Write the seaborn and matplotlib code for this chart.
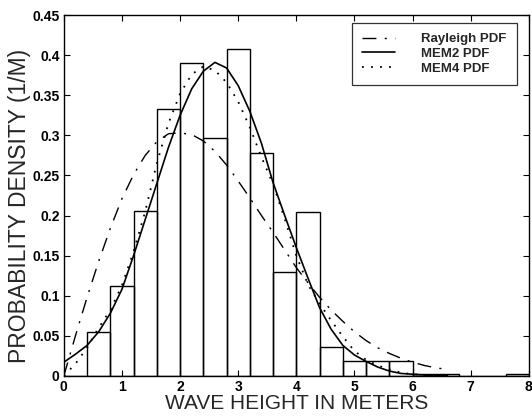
import matplotlib
matplotlib.use("Agg")
import matplotlib.pyplot as plt
import seaborn as sns
import numpy as np

# ---- data ----
bin_edges = [0.0, 0.4, 0.8, 1.2, 1.6, 2.0, 2.4, 2.8, 3.2, 3.6, 4.0, 4.4, 4.8,
             5.2, 5.6, 6.0, 6.4, 6.8, 7.2, 7.6, 8.0]
bin_density = [0.0, 0.055, 0.112, 0.205, 0.333, 0.390, 0.297, 0.408, 0.278,
               0.129, 0.204, 0.036, 0.018, 0.018, 0.018, 0.002, 0.002, 0.0,
               0.0, 0.002]

h_grid = [0.0, 0.2, 0.4, 0.6, 0.8, 1.0, 1.2, 1.4, 1.6, 1.8, 2.0, 2.2, 2.4,
          2.6, 2.8, 3.0, 3.2, 3.4, 3.6, 3.8, 4.0, 4.2, 4.4, 4.6, 4.8, 5.0,
          5.2, 5.4, 5.6, 5.8, 6.0, 6.2, 6.4, 6.6]
rayleigh_pdf = [0.0, 0.050, 0.098, 0.143, 0.184, 0.221, 0.251, 0.275, 0.292,
                0.302, 0.303, 0.301, 0.293, 0.280, 0.263, 0.243, 0.222, 0.200,
                0.179, 0.157, 0.135, 0.116, 0.098, 0.082, 0.068, 0.055, 0.044,
                0.035, 0.028, 0.022, 0.017, 0.013, 0.010, 0.008]
mem2_pdf = [0.017, 0.027, 0.038, 0.055, 0.078, 0.108, 0.150, 0.195, 0.240,
            0.285, 0.325, 0.358, 0.380, 0.391, 0.384, 0.362, 0.330, 0.290,
            0.241, 0.200, 0.160, 0.122, 0.085, 0.058, 0.038, 0.026, 0.018,
            0.011, 0.006, 0.003, 0.002, 0.001, 0.0005, 0.0003]
mem4_pdf = [0.0, 0.015, 0.035, 0.060, 0.082, 0.113, 0.155, 0.205, 0.265,
            0.315, 0.352, 0.376, 0.386, 0.381, 0.366, 0.342, 0.310, 0.273,
            0.239, 0.196, 0.150, 0.114, 0.090, 0.069, 0.049, 0.031, 0.020,
            0.013, 0.008, 0.004, 0.002, 0.001, 0.0005, 0.0003]

x_ticks = [0, 1, 2, 3, 4, 5, 6, 7, 8]
x_tick_labels = ["0", "1", "2", "3", "4", "5", "6", "7", "8"]
y_ticks = [0, 0.05, 0.1, 0.15, 0.2, 0.25, 0.3, 0.35, 0.4, 0.45]
y_tick_labels = ["0", "0.05", "0.1", "0.15", "0.2", "0.25", "0.3", "0.35",
                 "0.4", "0.45"]

# ---- figure ----
sns.set_style("ticks")
plt.rcParams["font.family"] = ["Liberation Sans", "DejaVu Sans"]

fig = plt.figure(figsize=(5.32, 4.19), dpi=100)
ax = fig.add_axes([0.120, 0.103, 0.874, 0.861])

bin_centers = [(a + b) / 2 for a, b in zip(bin_edges[:-1], bin_edges[1:])]
sns.histplot(x=bin_centers, weights=bin_density, bins=bin_edges, fill=False,
             color="black", linewidth=1.0, element="bars", stat="count",
             ax=ax, legend=False)

sns.lineplot(x=h_grid, y=rayleigh_pdf, ax=ax, color="black", linewidth=1.0,
             dashes=False, label="Rayleigh PDF", linestyle=(0, (10, 6, 1.5, 6)))
sns.lineplot(x=h_grid, y=mem2_pdf, ax=ax, color="black", linewidth=1.2,
             label="MEM2 PDF", linestyle="-")
sns.lineplot(x=h_grid, y=mem4_pdf, ax=ax, color="black", linewidth=1.3,
             label="MEM4 PDF", linestyle=(0, (1, 4)))

ax.set_xlim(0, 8)
ax.set_ylim(0, 0.45)
ax.set_xticks(x_ticks)
ax.set_xticklabels(x_tick_labels, fontsize=10, fontweight="bold")
ax.set_yticks(y_ticks)
ax.set_yticklabels(y_tick_labels, fontsize=10, fontweight="bold")
ax.tick_params(direction="in", top=True, right=True, length=4, width=0.8,
               pad=3, colors="black")

for s in ax.spines.values():
    s.set_visible(True)
    s.set_color("black")
    s.set_linewidth(1.0)

ax.set_xlabel("WAVE HEIGHT IN METERS", fontsize=15, labelpad=0)
ax.set_ylabel("PROBABILITY DENSITY (1/M)", fontsize=16.5)
ax.yaxis.set_label_coords(-0.07, 0.47)

leg = ax.legend(loc="upper right", bbox_to_anchor=(0.974, 0.978),
                borderaxespad=0.0,
                fontsize=9.5, frameon=True, fancybox=False, handlelength=2.5,
                handletextpad=2.0, borderpad=0.75, labelspacing=0.2,
                markerfirst=True)
leg.get_frame().set_edgecolor("black")
leg.get_frame().set_linewidth(0.9)
for t in leg.get_texts():
    t.set_fontweight("bold")

fig.savefig("out.png", dpi=100)
